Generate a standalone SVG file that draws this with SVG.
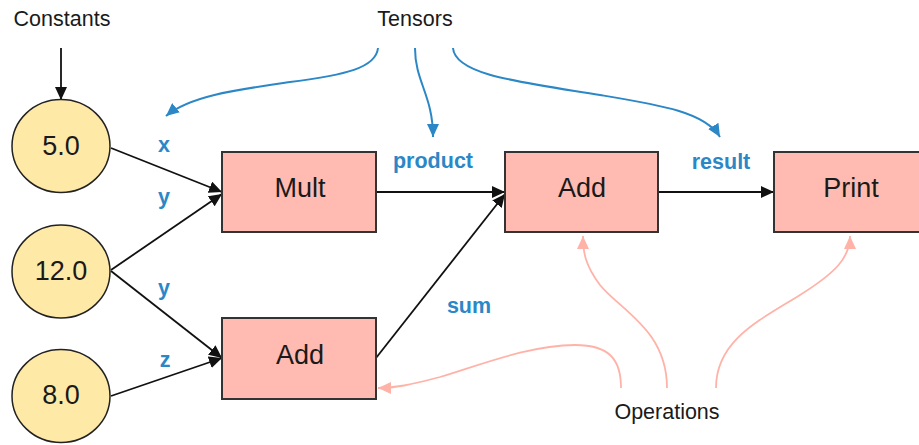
<svg xmlns="http://www.w3.org/2000/svg" width="919" height="445" viewBox="0 0 919 445">
<style>
  .title{font-family:"Liberation Sans",Arial,sans-serif;font-size:21.5px;fill:#1a1a1a;text-anchor:middle}
  .num{font-family:"Liberation Sans",Arial,sans-serif;font-size:27px;fill:#1a1a1a;text-anchor:middle}
  .op{font-family:"Liberation Sans",Arial,sans-serif;font-size:27px;fill:#1a1a1a;text-anchor:middle}
  .lbl{font-family:"Liberation Sans",Arial,sans-serif;font-size:21.5px;font-weight:bold;fill:#2b87c6;text-anchor:middle}
  .const{fill:#ffe9a6;stroke:#222;stroke-width:1.5}
  .box{fill:#ffbbb1;stroke:#333;stroke-width:2}
  .blk{stroke:#111;stroke-width:1.8;fill:none}
  .blue{stroke:#2b87c6;stroke-width:2;fill:none}
  .pink{stroke:#ffb3a8;stroke-width:1.8;fill:none}
</style>
<defs>
  <marker id="ab" markerUnits="userSpaceOnUse" markerWidth="14" markerHeight="12" refX="13" refY="6" orient="auto">
    <path d="M0,0 L13,6 L0,12 z" fill="#111"/>
  </marker>
  <marker id="au" markerUnits="userSpaceOnUse" markerWidth="14" markerHeight="12" refX="13" refY="6" orient="auto">
    <path d="M0,0 L13,6 L0,12 z" fill="#2b87c6"/>
  </marker>
  <marker id="ap" markerUnits="userSpaceOnUse" markerWidth="14" markerHeight="12" refX="13" refY="6" orient="auto">
    <path d="M0,0 L13,6 L0,12 z" fill="#ffb3a8"/>
  </marker>
</defs>
<rect width="919" height="445" fill="#fff"/>

<g id="connectors">
  <line class="blk" x1="61" y1="48" x2="61" y2="100" marker-end="url(#ab)"/>
  <line class="blk" x1="111" y1="148" x2="222" y2="192" marker-end="url(#ab)"/>
  <line class="blk" x1="111" y1="270" x2="222" y2="194" marker-end="url(#ab)"/>
  <line class="blk" x1="111" y1="271" x2="222" y2="358" marker-end="url(#ab)"/>
  <line class="blk" x1="111" y1="396" x2="222" y2="358" marker-end="url(#ab)"/>
  <line class="blk" x1="376" y1="192" x2="505" y2="192" marker-end="url(#ab)"/>
  <line class="blk" x1="376" y1="358" x2="505" y2="194" marker-end="url(#ab)"/>
  <line class="blk" x1="658" y1="192" x2="774" y2="192" marker-end="url(#ab)"/>

  <path class="blue" d="M378,48 C376,68 345,75 290,82 C235,90 190,96 166,116" marker-end="url(#au)"/>
  <path class="blue" d="M415,48 C415,82 433,95 433,137" marker-end="url(#au)"/>
  <path class="blue" d="M453,48 C455,75 520,82 600,95 C660,105 705,112 720,137" marker-end="url(#au)"/>

  <path class="pink" d="M621,388 C621,360 610,345 575,345 C530,345 480,365 440,377 C410,385 395,388 378,388" marker-end="url(#ap)"/>
  <path class="pink" d="M667,388 C667,330 620,310 600,285 C585,265 583,252 583,236" marker-end="url(#ap)"/>
  <path class="pink" d="M716,388 C716,340 760,320 800,295 C835,273 850,258 850,236" marker-end="url(#ap)"/>
</g>

<g id="label-constants"><text class="title" x="62" y="26">Constants</text></g>
<g id="label-tensors"><text class="title" x="415" y="26">Tensors</text></g>
<g id="label-operations"><text class="title" x="667" y="419">Operations</text></g>

<g id="c5"><ellipse class="const" cx="61" cy="146" rx="49" ry="46.5"/><text class="num" x="61" y="155">5.0</text></g>
<g id="c12"><ellipse class="const" cx="61" cy="271.5" rx="49" ry="46.5"/><text class="num" x="61" y="280">12.0</text></g>
<g id="c8"><ellipse class="const" cx="61" cy="396" rx="49" ry="46.5"/><text class="num" x="61" y="404">8.0</text></g>

<g id="mult"><rect class="box" x="222" y="152" width="154" height="80"/><text class="op" x="300" y="197">Mult</text></g>
<g id="add1"><rect class="box" x="505" y="152" width="153" height="80"/><text class="op" x="582" y="197">Add</text></g>
<g id="add2"><rect class="box" x="222" y="318" width="154" height="81"/><text class="op" x="300" y="364">Add</text></g>
<g id="print"><rect class="box" x="774" y="152" width="154" height="80"/><text class="op" x="851" y="197">Print</text></g>

<g id="labels">
  <text class="lbl" x="164" y="152">x</text>
  <text class="lbl" x="164" y="204">y</text>
  <text class="lbl" x="164" y="295">y</text>
  <text class="lbl" x="165" y="367">z</text>
  <text class="lbl" x="433" y="168">product</text>
  <text class="lbl" x="721" y="169">result</text>
  <text class="lbl" x="469" y="313">sum</text>
</g>
</svg>
